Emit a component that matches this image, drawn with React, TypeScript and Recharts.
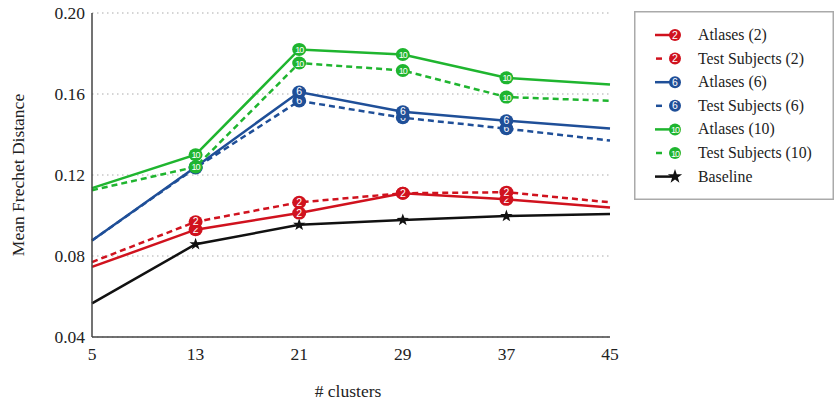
import React from 'react';
import { LineChart, Line, XAxis, YAxis, CartesianGrid, Label } from 'recharts';

const clusters = [5, 13, 21, 29, 37, 45];
const atlases2 = [0.0746, 0.093, 0.1012, 0.111, 0.108, 0.104];
const test2 = [0.077, 0.0969, 0.1065, 0.111, 0.1115, 0.1065];
const atlases6 = [0.0877, 0.124, 0.161, 0.1512, 0.1468, 0.143];
const test6 = [0.0877, 0.1235, 0.1566, 0.1483, 0.1429, 0.137];
const atlases10 = [0.1135, 0.13, 0.182, 0.1795, 0.168, 0.1647];
const test10 = [0.1125, 0.124, 0.1753, 0.1716, 0.1585, 0.1566];
const baseline = [0.0566, 0.0858, 0.0954, 0.0978, 0.0997, 0.1007];
const yTicks = [0.04, 0.08, 0.12, 0.16, 0.2];

const RED = '#d0121e';
const BLUE = '#1f4f98';
const GREEN = '#1fb52f';
const BLACK = '#111111';
const FONT = '"Liberation Serif", "Times New Roman", serif';

type SeriesDef = { key: string; name: string; values: number[]; color: string; dashed: boolean; marker: string };

const series: SeriesDef[] = [
  { key: 'baseline', name: 'Baseline', values: baseline, color: BLACK, dashed: false, marker: 'star' },
  { key: 'atlases2', name: 'Atlases (2)', values: atlases2, color: RED, dashed: false, marker: '2' },
  { key: 'test2', name: 'Test Subjects (2)', values: test2, color: RED, dashed: true, marker: '2' },
  { key: 'test6', name: 'Test Subjects (6)', values: test6, color: BLUE, dashed: true, marker: '6' },
  { key: 'atlases6', name: 'Atlases (6)', values: atlases6, color: BLUE, dashed: false, marker: '6' },
  { key: 'test10', name: 'Test Subjects (10)', values: test10, color: GREEN, dashed: true, marker: '10' },
  { key: 'atlases10', name: 'Atlases (10)', values: atlases10, color: GREEN, dashed: false, marker: '10' },
];

const legendOrder = ['atlases2', 'test2', 'atlases6', 'test6', 'atlases10', 'test10', 'baseline'];

const data = clusters.map((c, i) => {
  const row: Record<string, number> = { cluster: c };
  series.forEach((s) => {
    row[s.key] = s.values[i];
  });
  return row;
});

const starPath = (cx: number, cy: number, ro: number, ri: number) => {
  const pts: string[] = [];
  for (let k = 0; k < 10; k++) {
    const r = k % 2 === 0 ? ro : ri;
    const a = -Math.PI / 2 + (k * Math.PI) / 5;
    pts.push(`${(cx + r * Math.cos(a)).toFixed(2)},${(cy + r * Math.sin(a)).toFixed(2)}`);
  }
  return 'M' + pts.join('L') + 'Z';
};

const Marker = ({ cx, cy, color, marker, small }: { cx: number; cy: number; color: string; marker: string; small?: boolean }) => {
  if (marker === 'star') {
    return <path d={starPath(cx, cy, small ? 7.5 : 6.5, small ? 3 : 2.6)} fill={color} />;
  }
  const rx = small ? 6 : 7;
  const ry = small ? 6 : 6.5;
  return (
    <g>
      <ellipse cx={cx} cy={cy} rx={rx} ry={ry} fill={color} />
      <text
        x={cx}
        y={cy + 3.5}
        textAnchor="middle"
        fontSize={marker.length > 1 ? 9 : 10.5}
        fill="#ffffff"
        fontFamily='"Liberation Sans", Arial, sans-serif'
        letterSpacing={marker.length > 1 ? -1 : 0}
      >
        {marker}
      </text>
    </g>
  );
};

const makeDot = (s: SeriesDef) => (props: any) => {
  const { cx, cy, index } = props;
  if (cx == null || cy == null || index === 0 || index === clusters.length - 1) {
    return <g key={`${s.key}-e-${index}`} />;
  }
  return (
    <g key={`${s.key}-d-${index}`}>
      <Marker cx={cx} cy={cy} color={s.color} marker={s.marker} />
    </g>
  );
};

const LegendBox = () => {
  const ordered = legendOrder.map((k) => series.find((s) => s.key === k)!);
  return (
    <svg width={200} height={189} style={{ position: 'absolute', left: 634, top: 11 }}>
      <rect x={0.75} y={0.75} width={198.5} height={187.5} fill="#fff" stroke="#aaaaaa" strokeWidth={1.5} />
      {ordered.map((s, i) => {
        const cy = 24 + i * 23.6;
        return (
          <g key={s.key}>
            {s.dashed ? (
              <line x1={22} x2={28} y1={cy} y2={cy} stroke={s.color} strokeWidth={2.5} />
            ) : (
              <line x1={21} x2={40} y1={cy} y2={cy} stroke={s.color} strokeWidth={2.5} />
            )}
            <Marker cx={41} cy={cy} color={s.color} marker={s.marker} small />
            <text x={64} y={cy + 5} fontSize={15.8} fontFamily={FONT} fill="#222">
              {s.name}
            </text>
          </g>
        );
      })}
    </svg>
  );
};

export default function App() {
  return (
    <div style={{ position: 'absolute', left: 0, top: 0, width: 837, height: 409, background: '#fff' }}>
      <LineChart
        width={837}
        height={409}
        data={data}
        margin={{ top: 13, right: 227, bottom: 42, left: 32 }}
        style={{ fontFamily: FONT }}
      >
        <CartesianGrid horizontal vertical={false} stroke="#aaa" strokeDasharray="1.5 3.5" />
        <XAxis
          dataKey="cluster"
          type="number"
          domain={[5, 45]}
          ticks={clusters}
          tickLine={false}
          tickSize={0}
          tickMargin={11}
          height={30}
          axisLine={{ stroke: '#444', strokeWidth: 1.5 }}
          tick={{ fontSize: 17.5, fill: '#222', fontFamily: FONT }}
          interval={0}
        >
          <Label
            content={(p: any) => {
              const vb = p.viewBox;
              return (
                <text x={vb.x + vb.width / 2 - 3} y={vb.y + 60} textAnchor="middle" fontSize={17.5} fontFamily={FONT} fill="#222">
                  # clusters
                </text>
              );
            }}
          />
        </XAxis>
        <YAxis
          type="number"
          domain={[0.04, 0.2]}
          ticks={yTicks}
          tickFormatter={(v: number) => v.toFixed(2)}
          tickLine={false}
          tickSize={0}
          tickMargin={7}
          width={60}
          axisLine={{ stroke: '#444', strokeWidth: 1.5 }}
          tick={{ fontSize: 17.5, fill: '#222', fontFamily: FONT }}
          interval={0}
        >
          <Label
            content={(p: any) => {
              const vb = p.viewBox;
              const x = vb.x - 8;
              const y = vb.y + vb.height / 2;
              return (
                <text transform={`translate(${x},${y}) rotate(-90)`} textAnchor="middle" fontSize={17.5} fontFamily={FONT} fill="#222">
                  Mean Frechet Distance
                </text>
              );
            }}
          />
        </YAxis>
        {series.map((s) => (
          <Line
            key={s.key}
            type="linear"
            dataKey={s.key}
            stroke={s.color}
            strokeWidth={2.5}
            strokeDasharray={s.dashed ? '6 4' : undefined}
            dot={makeDot(s)}
            activeDot={false}
            isAnimationActive={false}
          />
        ))}
      </LineChart>
      <LegendBox />
    </div>
  );
}
